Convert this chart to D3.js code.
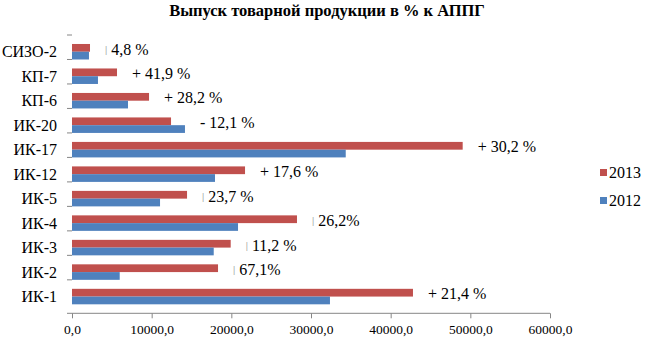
<!DOCTYPE html>
<html>
<head>
<meta charset="utf-8">
<script src="https://cdn.jsdelivr.net/npm/d3@7"></script>
<style>
  html, body { margin: 0; padding: 0; background: #fff; }
  svg { display: block; }
  text { font-family: "Liberation Serif", "Times New Roman", serif; fill: #000; }
</style>
</head>
<body>
<svg id="chart" width="647" height="343" font-family="Liberation Serif, serif"></svg>
<script>
// Output of marketable products by institution, 2012 vs 2013
const categories = ["СИЗО-2", "КП-7", "КП-6", "ИК-20", "ИК-17", "ИК-12", "ИК-5", "ИК-4", "ИК-3", "ИК-2", "ИК-1"];
const values2013 = [2260, 5650, 9670, 12430, 49040, 21720, 14440, 28240, 19920, 18330, 42800];
const values2012 = [2130, 3260, 7030, 14180, 34360, 17950, 11050, 20840, 17790, 5990, 32380];
// Change labels; the leading "|" is the faint sign mark shown before some numbers
const changeLabels = ["| 4,8 %", "+ 41,9 %", "+ 28,2 %", "- 12,1 %", "+ 30,2 %", "+ 17,6 %", "| 23,7 %", "| 26,2%", "| 11,2 %", "| 67,1%", "+ 21,4 %"];
const xTicks = [0, 10000, 20000, 30000, 40000, 50000, 60000];
const seriesNames = ["2013", "2012"];
const seriesColors = ["#C0504D", "#4F81BD"];
const titleText = "Выпуск товарной продукции в % к АППГ";

const svg = d3.select("#chart");
const plot = { left: 72, right: 550, top: 35, bottom: 313.3 };

const x = d3.scaleLinear().domain([0, 60000]).range([plot.left, plot.right]);
const y = d3.scaleBand().domain(categories).range([plot.top, plot.bottom]).padding(0.367);
const sub = d3.scaleBand().domain(seriesNames).range([0, y.bandwidth()]);

// Title
svg.append("text")
  .attr("x", 327).attr("y", 16)
  .attr("text-anchor", "middle")
  .attr("font-weight", "bold")
  .attr("font-size", 16.5)
  .text(titleText);

// Bars
const rows = categories.map((c, i) => ({ c, i, v: [values2013[i], values2012[i]] }));
const g = svg.append("g");
seriesNames.forEach((s, si) => {
  g.selectAll(".bar-" + s)
    .data(rows)
    .join("rect")
    .attr("x", x(0))
    .attr("y", d => y(d.c) + sub(s))
    .attr("width", d => x(d.v[si]) - x(0))
    .attr("height", sub.bandwidth())
    .attr("fill", seriesColors[si]);
});

// X axis
const xAxis = d3.axisBottom(x)
  .tickValues(xTicks)
  .tickSize(5)
  .tickFormat(d => d3.format(".1f")(d).replace(".", ","));
const xg = svg.append("g").attr("transform", `translate(0,${plot.bottom})`).call(xAxis);
xg.attr("font-family", null);
xg.select(".domain").remove();
xg.append("line").attr("x1", 67).attr("x2", plot.right).attr("y1", 0).attr("y2", 0)
  .attr("stroke", "#868686");
xg.selectAll(".tick line").attr("stroke", "#868686");
xg.selectAll(".tick text")
  .attr("y", 11)
  .attr("font-size", 13.5)
  .attr("fill", "#000");

// Category boundary ticks on the left
const step = y.step();
svg.append("g").selectAll("line")
  .data(d3.range(categories.length))
  .join("line")
  .attr("x1", 67).attr("x2", plot.left)
  .attr("y1", i => plot.top + i * step)
  .attr("y2", i => plot.top + i * step)
  .attr("stroke", "#868686");

// Category labels
svg.append("g").selectAll("text")
  .data(categories)
  .join("text")
  .attr("x", 57)
  .attr("y", d => y(d) + y.bandwidth() / 2)
  .attr("text-anchor", "end")
  .attr("dominant-baseline", "central")
  .attr("font-size", 16)
  .text(d => d);

// Change labels beside each pair of bars
const lbl = svg.append("g").selectAll("text")
  .data(rows)
  .join("text")
  .attr("x", d => x(Math.max(d.v[0], d.v[1])) + 15)
  .attr("y", d => y(d.c) + y.bandwidth() / 2 - 3)
  .attr("dominant-baseline", "central")
  .attr("font-size", 16);
lbl.each(function (d) {
  const t = d3.select(this);
  const s = changeLabels[d.i];
  if (s.startsWith("|")) {
    t.append("tspan").attr("fill", "#8a8a8a").attr("font-size", 11).text("|");
    t.append("tspan").text(" " + s.slice(2));
  } else {
    t.text(s);
  }
});

// Legend
const leg = svg.append("g");
seriesNames.forEach((s, si) => {
  const cy = 172.5 + si * 28;
  leg.append("rect").attr("x", 600).attr("y", cy - 3.5).attr("width", 7).attr("height", 7)
    .attr("fill", seriesColors[si]);
  leg.append("text").attr("x", 609).attr("y", cy)
    .attr("dominant-baseline", "central")
    .attr("font-size", 16)
    .text(s);
});
</script>
</body>
</html>
